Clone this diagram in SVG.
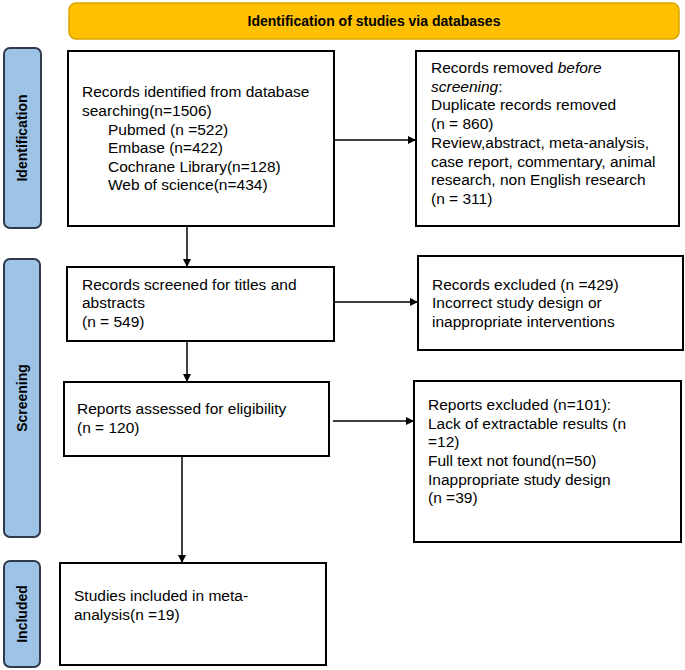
<svg xmlns="http://www.w3.org/2000/svg" width="685" height="670" viewBox="0 0 685 670">
<defs>
<marker id="ah" markerWidth="8" markerHeight="8" refX="7" refY="4" orient="auto" markerUnits="userSpaceOnUse"><path d="M0,0 L8,4 L0,8 z" fill="#000"/></marker>
<style>
.box{fill:#fff;stroke:#000;stroke-width:2}
.side{fill:#9dc3e6;stroke:#2f3b4c;stroke-width:2}
.t{font-family:"Liberation Sans",Arial,sans-serif;font-size:15.5px;fill:#000}
.s{font-family:"Liberation Sans",Arial,sans-serif;font-size:14px;font-weight:bold;fill:#000}
.c{stroke:#000;stroke-width:1.5;fill:none;marker-end:url(#ah)}
</style>
</defs>
<rect width="685" height="670" fill="#fff"/>
<g id="header"><rect x="69" y="3" width="610" height="36" rx="7" fill="#ffc000" stroke="#d9a400" stroke-width="1.5"/><text class="s" x="374" y="26" text-anchor="middle">Identification of studies via databases</text></g>
<g id="lab-identification"><rect class="side" x="4" y="48" width="37" height="180" rx="6"/><text class="s" transform="translate(27,138) rotate(-90)" text-anchor="middle">Identification</text></g>
<g id="lab-screening"><rect class="side" x="4" y="259" width="36" height="278" rx="6"/><text class="s" transform="translate(27,398) rotate(-90)" text-anchor="middle">Screening</text></g>
<g id="lab-included"><rect class="side" x="4" y="561" width="36" height="106" rx="6"/><text class="s" transform="translate(27,614) rotate(-90)" text-anchor="middle">Included</text></g>
<g id="n1"><rect class="box" x="68" y="51" width="266" height="175"/><text class="t"><tspan x="82" y="97">Records identified from database</tspan><tspan x="82" y="116">searching(n=1506)</tspan><tspan x="108" y="135">Pubmed (n =522)</tspan><tspan x="108" y="153">Embase (n=422)</tspan><tspan x="108" y="172">Cochrane Library(n=128)</tspan><tspan x="108" y="190">Web of science(n=434)</tspan></text></g>
<g id="n2"><rect class="box" x="416" y="51" width="263" height="175"/><text class="t"><tspan x="431" y="73">Records removed <tspan font-style="italic">before</tspan></tspan><tspan x="431" y="92"><tspan font-style="italic">screening</tspan>:</tspan><tspan x="431" y="110">Duplicate records removed</tspan><tspan x="431" y="129">(n = 860)</tspan><tspan x="431" y="148">Review,abstract, meta-analysis,</tspan><tspan x="431" y="167">case report, commentary, animal</tspan><tspan x="431" y="185">research, non English research</tspan><tspan x="431" y="204">(n = 311)</tspan></text></g>
<g id="n3"><rect class="box" x="67" y="267" width="267" height="74"/><text class="t"><tspan x="82" y="290">Records screened for titles and</tspan><tspan x="82" y="308">abstracts</tspan><tspan x="82" y="327">(n = 549)</tspan></text></g>
<g id="n4"><rect class="box" x="418" y="256" width="265" height="94"/><text class="t"><tspan x="432" y="290">Records excluded (n =429)</tspan><tspan x="432" y="308">Incorrect study design or</tspan><tspan x="432" y="327">inappropriate interventions</tspan></text></g>
<g id="n5"><rect class="box" x="64" y="382" width="265" height="74"/><text class="t"><tspan x="77" y="414">Reports assessed for eligibility</tspan><tspan x="77" y="433">(n = 120)</tspan></text></g>
<g id="n6"><rect class="box" x="414" y="381" width="267" height="161"/><text class="t"><tspan x="428" y="410">Reports excluded (n=101):</tspan><tspan x="428" y="429">Lack of extractable results (n</tspan><tspan x="428" y="447">=12)</tspan><tspan x="428" y="466">Full text not found(n=50)</tspan><tspan x="428" y="485">Inappropriate study design</tspan><tspan x="428" y="503">(n =39)</tspan></text></g>
<g id="n7"><rect class="box" x="60" y="563" width="266" height="102"/><text class="t"><tspan x="74" y="601">Studies included in meta-</tspan><tspan x="74" y="620">analysis(n =19)</tspan></text></g>
<g id="connectors">
<line class="c" x1="334" y1="140" x2="415" y2="140"/>
<line class="c" x1="187" y1="226" x2="187" y2="266"/>
<line class="c" x1="334" y1="302" x2="417" y2="302"/>
<line class="c" x1="187" y1="341" x2="187" y2="381"/>
<line class="c" x1="333" y1="421" x2="413" y2="421"/>
<line class="c" x1="182" y1="456" x2="182" y2="562"/>
</g>
</svg>
